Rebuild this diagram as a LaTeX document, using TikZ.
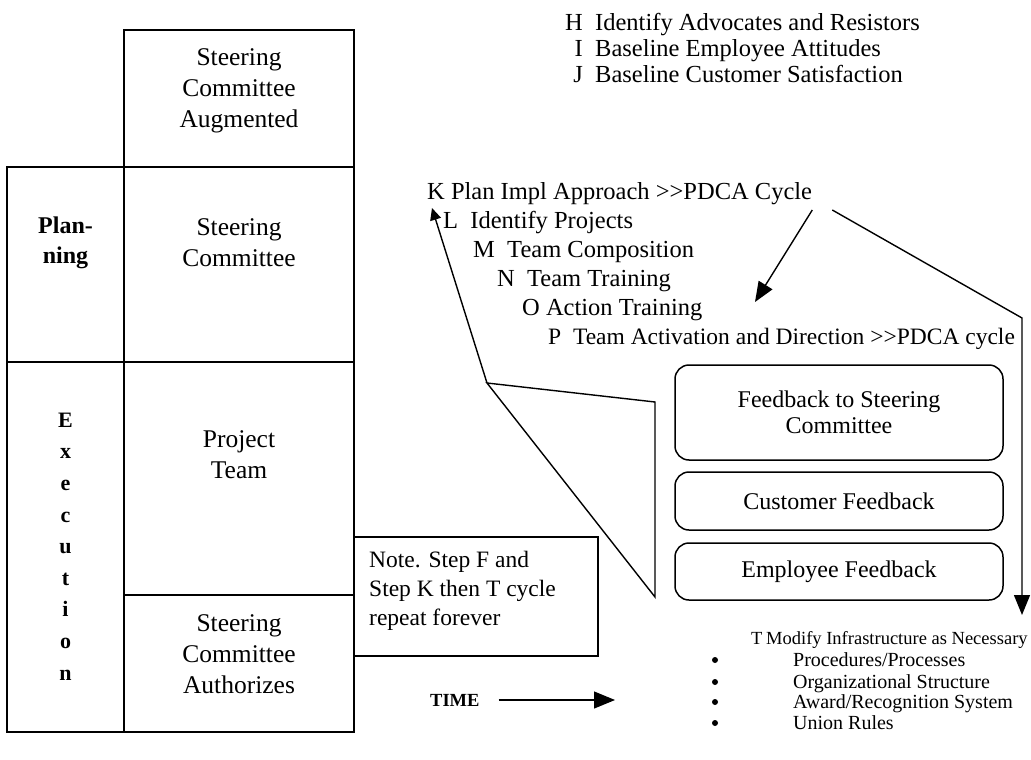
\documentclass[tikz,border=0pt]{standalone}
\usepackage{fontspec}
\setmainfont{Liberation Serif}
\usetikzlibrary{arrows.meta}
\begin{document}
\begin{tikzpicture}[x=1pt,y=-1pt,
  cell/.style={draw, line width=1.6pt, inner sep=0pt},
  gridtxt/.style={inner sep=0pt, align=center, font=\fontsize{25.5}{31}\selectfont},
  sidetxt/.style={inner sep=0pt, align=center, font=\bfseries\fontsize{24}{30}\selectfont},
  listtxt/.style={inner sep=0pt, anchor=base west, font=\fontsize{24.5}{28}\selectfont},
  tagtxt/.style={inner sep=0pt, anchor=base east, font=\fontsize{24.5}{28}\selectfont},
  fbbox/.style={draw, line width=1.5pt, rounded corners=14pt, inner sep=0pt,
    minimum width=328pt, align=center, font=\fontsize{24}{26}\selectfont},
  smalltxt/.style={inner sep=0pt, anchor=base west, font=\fontsize{20}{22}\selectfont},
  bullet/.style={circle, fill, inner sep=0pt, minimum size=6pt},
  link/.style={line width=1.4pt},
  bigtip/.style={-{Triangle[length=20pt,width=16pt]}},
  smalltip/.style={-{Triangle[length=12pt,width=11pt]}}
]
\useasboundingbox (0,0) rectangle (1031,760);

% ---- left grid of roles ----
\node[cell, minimum width=230pt, minimum height=137pt] (aug)  at (239,98.5)  {};
\node[cell, minimum width=117pt, minimum height=195pt] (plan) at (65.5,264.5) {};
\node[cell, minimum width=230pt, minimum height=195pt] (sc)   at (239,264.5) {};
\node[cell, minimum width=117pt, minimum height=370pt] (exec) at (65.5,547)  {};
\node[cell, minimum width=230pt, minimum height=233pt] (pt)   at (239,478.5) {};
\node[cell, minimum width=230pt, minimum height=137pt] (auth) at (239,663.5) {};

\node[gridtxt] (augT)  at (239,91)  {Steering\\Committee\\Augmented};
\node[sidetxt] (planT) at (65.5,243) {Plan-\\ning};
\node[gridtxt] (scT)   at (239,243) {Steering\\Committee};
\node[sidetxt, font=\bfseries\fontsize{22}{31.6}\selectfont] (execT) at (65.5,546.5)
  {E\\x\\e\\c\\u\\t\\i\\o\\n};
\node[gridtxt] (ptT)   at (239,455) {Project\\Team};
\node[gridtxt] (authT) at (239,654) {Steering\\Committee\\Authorizes};

% ---- note and time axis ----
\node[cell, minimum width=244pt, minimum height=119pt] (note) at (476,596.5) {};
\node[inner sep=0pt, anchor=west, align=left, font=\fontsize{23.5}{29}\selectfont]
  (noteT) at (369,591) {Note. Step F and\\Step K then T cycle\\repeat forever};

\node[inner sep=0pt, anchor=west, font=\bfseries\fontsize{18.5}{20}\selectfont] (time) at (430,700) {TIME};
\coordinate (timeEnd) at (615,700);
\draw[link, line width=1.2pt, -{Triangle[length=21pt,width=17pt]}] ([xshift=19pt]time.east) -- (timeEnd);

% ---- baseline steps ----
\node[tagtxt]  (hH) at (583,31) {H};
\node[listtxt] (tH) at (595,31) {Identify Advocates and Resistors};
\node[tagtxt]  (hI) at (583,57) {I};
\node[listtxt] (tI) at (595,57) {Baseline Employee Attitudes};
\node[tagtxt]  (hJ) at (583,83) {J};
\node[listtxt] (tJ) at (595,83) {Baseline Customer Satisfaction};

% ---- PDCA steps ----
\node[listtxt] (kK) at (427,199) {K Plan Impl Approach >{}>PDCA Cycle};
\node[listtxt] (lL) at (443,228) {L\ \ Identify Projects};
\node[listtxt] (mM) at (473,257) {M\ \ Team Composition};
\node[listtxt] (nN) at (497,286) {N\ \ Team Training};
\node[listtxt] (oO) at (522,315) {O Action Training};
\node[listtxt, font=\fontsize{23.5}{28}\selectfont] (pP) at (548,344)
  {P\ \ Team Activation and Direction >{}>PDCA cycle};

% ---- feedback boxes ----
\node[fbbox, minimum height=95pt] (fb1) at (839,412.5) {Feedback to Steering\\Committee};
\node[fbbox, minimum height=58pt] (fb2) at (839,501)   {Customer Feedback};
\node[fbbox, minimum height=57pt] (fb3) at (839,571.5) {Employee Feedback};

% ---- infrastructure step ----
\node[inner sep=0pt, anchor=base west, font=\fontsize{18.5}{22}\selectfont] (tT) at (751,644) {T};
\node[inner sep=0pt, anchor=base west, font=\fontsize{18.5}{22}\selectfont] (tText) at (766,644)
  {Modify Infrastructure as Necessary};
\node[bullet] (b1) at (715,660) {};
\node[smalltxt] (s1) at (793,666) {Procedures/Processes};
\node[bullet] (b2) at (715,682) {};
\node[smalltxt] (s2) at (793,688) {Organizational Structure};
\node[bullet] (b3) at (715,702) {};
\node[smalltxt] (s3) at (793,708) {Award/Recognition System};
\node[bullet] (b4) at (715,723) {};
\node[smalltxt] (s4) at (793,729) {Union Rules};

% ---- cycle connectors ----
\coordinate (kDown)  at (755,302);
\coordinate (corner) at (1022,318);
\coordinate (tArrow) at (1022,615);
\draw[link, bigtip] ([xshift=0pt,yshift=-11pt]kK.base east) -- (kDown);
\draw[link, bigtip] ([xshift=20pt,yshift=-11pt]kK.base east) -- (corner) -- (tArrow);

\coordinate (vtx) at (487,383);
\coordinate (fa)  at (655,402);
\coordinate (fbt) at (655,597);
\coordinate (lTip) at (432,208);
\draw[link] (fa) -- (fbt) -- (vtx) -- cycle;
\draw[link, smalltip] (vtx) -- (lTip);
\end{tikzpicture}
\end{document}
